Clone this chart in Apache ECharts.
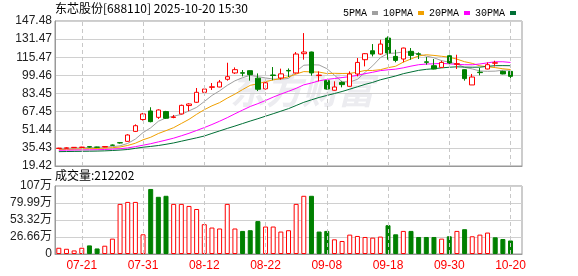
<!DOCTYPE html>
<html><head><meta charset="utf-8">
<script src="https://cdn.jsdelivr.net/npm/echarts@6/dist/echarts.min.js"></script>
<style>html,body{margin:0;padding:0;background:#fff}#c{width:578px;height:276px}</style>
</head><body><div id="c"></div>
<script>
const stockTitle = '东芯股份[688110] 2025-10-20 15:30';
const dates = ['07-16','07-17','07-18','07-21','07-22','07-23','07-24','07-25','07-28','07-29','07-30','07-31',
 '08-01','08-04','08-05','08-06','08-07','08-08','08-11','08-12','08-13','08-14','08-15','08-18','08-19','08-20','08-21','08-22',
 '08-25','08-26','08-27','08-28','08-29','09-01','09-02','09-08','09-09','09-10','09-11','09-12','09-15','09-16','09-17','09-18',
 '09-19','09-22','09-23','09-24','09-25','09-26','09-29','09-30','10-09','10-10','10-13','10-14','10-15','10-16','10-17','10-20'];
const tickDates = ['07-21','07-31','08-12','08-22','09-08','09-18','09-30','10-20'];
const open = [34.9,35.1,35.6,35.8,36.5,36.1,36.2,37.9,40.0,41.2, 50.0,60.5,68.0,62.4,67.5,62.3,65.4,72.8,75.7,84.5,
 88.9,89.2,96.0,101.6,101.8,103.6,97.0,87.6,99.8,97.1, 103.8,101.6,118.6,120.1,99.3,94.8,86.3,93.3,89.8,100.7,
 113.3,121.2,118.3,132.4,116.2,113.9,120.7,118.5,111.4,108.0, 106.5,116.8,109.2,104.5,91.0,102.3,105.1,110.2,103.0,103.0];
const close = [35.2,35.4,35.9,36.1,36.2,36.0,36.6,37.7,39.8,46.8, 55.0,65.4,58.6,68.9,61.6,62.7,73.0,74.2,84.5,87.4,
 89.4,93.6,98.3,104.5,101.4,100.1,87.2,92.9,99.4,100.8, 103.4,118.3,120.1,101.6,99.7,87.4,89.2,91.3,100.7,110.9,
 118.6,118.3,127.1,119.2,112.7,123.6,117.1,118.1,111.0,105.1, 110.9,110.4,109.8,96.6,98.0,101.9,108.9,110.6,100.7,98.6];
const low = [34.6,34.8,35.3,35.5,35.6,35.5,36.0,37.2,39.2,40.8, 49.5,59.5,58.0,61.0,61.0,61.6,65.0,67.8,75.2,81.9,
 86.6,88.9,94.8,100.7,98.6,94.8,85.6,86.9,95.2,95.7, 98.0,101.0,113.3,99.2,94.2,86.9,86.0,88.9,89.5,98.6,
 107.4,116.2,117.7,113.3,111.0,111.0,113.3,113.9,108.9,104.8, 106.2,106.0,105.1,94.8,91.0,99.5,104.8,107.4,100.4,96.6];
const high = [35.5,35.9,36.2,36.4,37.0,36.4,36.9,38.4,40.5,47.5, 56.2,66.3,71.3,69.5,68.1,64.5,73.6,74.8,88.3,89.8,
 92.7,95.4,110.6,106.5,104.2,103.9,101.2,94.8,106.8,105.4, 105.6,120.1,136.8,120.4,103.0,95.1,94.2,94.2,103.0,114.8,
 119.2,127.1,130.9,133.9,122.1,123.9,123.6,119.8,115.7,113.9, 112.4,117.7,117.7,104.8,100.7,106.0,110.9,112.4,103.6,103.3];
const volume = [98000,82000,56000,98000,135000,87000,130000,241000,786000,817000,
 817000,309000,1020000,897000,913000,786000,786000,754000,706000,468000,
 415000,400000,786000,400000,362000,373000,516000,431000,431000,352000,
 373000,786000,913000,913000,352000,362000,230000,204000,304000,283000,
 267000,257000,273000,452000,309000,362000,362000,267000,267000,267000,
 241000,278000,362000,389000,278000,304000,336000,262000,235000,212202];
// 1 = rising day (red volume bar), 0 = falling day (green volume bar)
const volumeRise = [1,1,1,1,0,0,1,1,1,1, 1,1,0,0,0,1,1,1,1,1, 1,1,1,1,0,0,0,1,1,1,
 1,1,1,0,0,0,1,1,1,1, 1,1,1,0,0,1,0,0,0,0, 1,0,1,0,1,1,1,0,0,0];
const ma5 = [35.0,35.1,35.3,35.5,35.76,35.92,36.16,36.52,37.26,39.38, 43.18,48.94,53.12,58.94,61.9,63.44,64.96,68.08,71.2,76.36,
 81.7,85.82,90.64,94.64,97.44,99.58,98.3,97.22,96.2,96.08, 96.74,102.96,108.4,108.84,108.62,105.42,99.6,93.84,93.66,95.9,
 102.14,107.96,115.12,118.82,119.18,120.18,119.94,118.14,116.5,114.98, 112.44,111.1,109.44,106.56,105.14,103.34,103.04,103.2,104.02,104.14];
const ma10 = [34.0,34.1,34.3,34.5,34.7,34.9,35.2,35.6,36.2,37.57, 39.55,42.55,44.82,48.1,50.64,53.31,56.95,60.6,65.07,69.13,
 72.57,75.39,79.36,82.92,86.9,90.64,92.06,93.93,95.42,96.76, 98.16,100.63,102.81,102.52,102.35,101.08,101.28,101.12,101.25,102.26,
 103.78,103.78,104.48,106.24,107.54,111.16,113.95,116.63,117.66,117.08, 116.31,115.52,113.79,111.53,110.06,107.89,107.07,106.32,105.29,104.64];
const ma20 = [33.3,33.4,33.5,33.6,33.7,33.8,34.0,34.3,34.7,35.4, 36.5,37.8,39.1,40.7,42.3,44.0,46.1,48.3,50.8,53.35,
 56.06,58.97,62.09,65.51,68.77,71.98,74.5,77.27,80.25,82.95, 85.37,88.01,91.09,92.72,94.63,95.86,96.67,97.53,98.34,99.51,
 100.97,102.21,103.65,104.38,104.95,106.12,107.62,108.88,109.46,109.67, 110.05,109.65,109.14,108.89,108.8,109.53,110.51,111.48,111.48,110.86];
const ma30 = [32.1,32.2,32.3,32.4,32.5,32.6,32.8,33.1,33.5,34.0, 35.0,36.0,36.7,37.5,38.6,39.8,41.3,42.8,44.3,45.9,
 48.2,50.4,52.6,54.7,56.9,59.1,61.2,63.4,65.6,67.82, 70.09,72.86,75.66,77.85,79.96,81.68,83.43,85.22,87.25,89.38,
 91.5,93.27,95.55,97.23,98.93,100.96,102.43,103.89,104.78,105.37, 106.08,106.64,107.03,106.76,106.65,106.71,107.43,108.02,108.07,107.99];
const priceTicks = [19.42,35.43,51.44,67.45,83.45,99.46,115.47,131.47,147.48];
const volStep = 266620;

const UP = '#ff0000', DOWN = '#008000';
const base = priceTicks[0];
const pStep = (priceTicks[priceTicks.length-1] - base) / (priceTicks.length - 1);
const sh = v => +(v - base).toFixed(4);
const cats = dates.concat(['']);
const kData = dates.map((d, i) => [sh(open[i]), sh(close[i]), sh(low[i]), sh(high[i])]);
const volData = volume.map((v, i) => ({
  value: v,
  itemStyle: volumeRise[i] ? { color: '#fff', borderColor: UP, borderWidth: 1 } : { color: DOWN, borderColor: DOWN, borderWidth: 1 }
}));
const vMark = {
  silent: true, symbol: ['none','none'], label: { show: false },
  lineStyle: { color: '#c8c8c8', type: [4,3], width: 1 },
  emphasis: { disabled: true },
  data: tickDates.map(d => ({ xAxis: d }))
};
const cjk = "'Noto Sans CJK SC'";
const axFont = "'Liberation Sans','Noto Sans CJK SC'";
const maSeries = [['5PMA', ma5, '#a0a0a0'], ['10PMA', ma10, '#f0a000'], ['20PMA', ma20, '#ff00ff'], ['30PMA', ma30, '#006f35']]
  .map(([n, arr, c]) => ({
    name: n, type: 'line', xAxisIndex: 0, yAxisIndex: 0, data: arr.map(sh), symbol: 'none', color: c,
    lineStyle: { width: 1, color: c }, z: 3
  }));

const chart = echarts.init(document.getElementById('c'), null, { renderer: 'canvas' });
chart.setOption({
  animation: false,
  backgroundColor: '#fff',
  legend: {
    left: 338, top: 3, align: 'right', itemWidth: 6, itemHeight: 4, itemGap: 5, icon: 'rect',
    textStyle: { fontFamily: "'Liberation Mono'", fontSize: 10, color: '#000' },
    data: ['5PMA','10PMA','20PMA','30PMA'], selectedMode: false
  },
  graphic: [
    { type: 'text', left: 55, top: 2, style: { text: stockTitle, font: "12px " + cjk, fill: '#000' } },
    { type: 'text', left: 55, top: 169, style: { text: '成交量:' + volume[volume.length-1], font: "12px " + cjk, fill: '#000' } },
    { type: 'text', left: 230, top: 72, z: -1, style: { text: '东方财富', font: "italic bold 36px " + cjk, fill: '#ececf0' } }
  ],
  grid: [
    { left: 55, right: 56, top: 21, height: 145, show: true, borderColor: '#999', borderWidth: 1 },
    { left: 55, right: 56, top: 186, height: 68, show: true, borderColor: '#999', borderWidth: 1 }
  ],
  xAxis: [
    { type: 'category', gridIndex: 0, data: cats, boundaryGap: true,
      axisLine: { lineStyle: { color: '#999' } }, axisTick: { show: false }, axisLabel: { show: false }, splitLine: { show: false } },
    { type: 'category', gridIndex: 1, data: cats, boundaryGap: true,
      axisLine: { lineStyle: { color: '#999' } }, axisTick: { show: false }, splitLine: { show: false },
      axisLabel: { color: '#ff0000', fontSize: 12, fontFamily: axFont, margin: 6,
        interval: (idx, val) => tickDates.indexOf(val) >= 0 } }
  ],
  yAxis: [
    { type: 'value', gridIndex: 0, min: 0, max: sh(priceTicks[priceTicks.length-1]), interval: pStep,
      axisLine: { show: true, lineStyle: { color: '#999' } }, axisTick: { show: false },
      axisLabel: { color: '#222', fontSize: 12, fontFamily: axFont, margin: 3, showMinLabel: true, showMaxLabel: true,
        formatter: v => priceTicks[Math.round(v / pStep)].toFixed(2) },
      splitLine: { lineStyle: { color: '#d0d0d0', width: 1 } } },
    { type: 'value', gridIndex: 1, min: 0, max: volStep * 4, interval: volStep,
      axisLine: { show: true, lineStyle: { color: '#999' } }, axisTick: { show: false },
      axisLabel: { color: '#222', fontSize: 12, fontFamily: axFont, margin: 3,
        formatter: v => { if (v === 0) return '0'; const w = v / 10000; return w >= 100 ? Math.round(w) + '万' : w.toFixed(2) + '万'; } },
      splitLine: { lineStyle: { color: '#d0d0d0', width: 1 } } }
  ],
  series: [
    { name: 'K', type: 'candlestick', xAxisIndex: 0, yAxisIndex: 0, data: kData, barWidth: 5, z: 4,
      itemStyle: { color: '#fff', color0: DOWN, borderColor: UP, borderColor0: DOWN, borderWidth: 1 },
      markLine: vMark },
    ...maSeries,
    { name: 'VOL', type: 'bar', xAxisIndex: 1, yAxisIndex: 1, data: volData, barWidth: 5, markLine: vMark }
  ]
});
</script></body></html>
